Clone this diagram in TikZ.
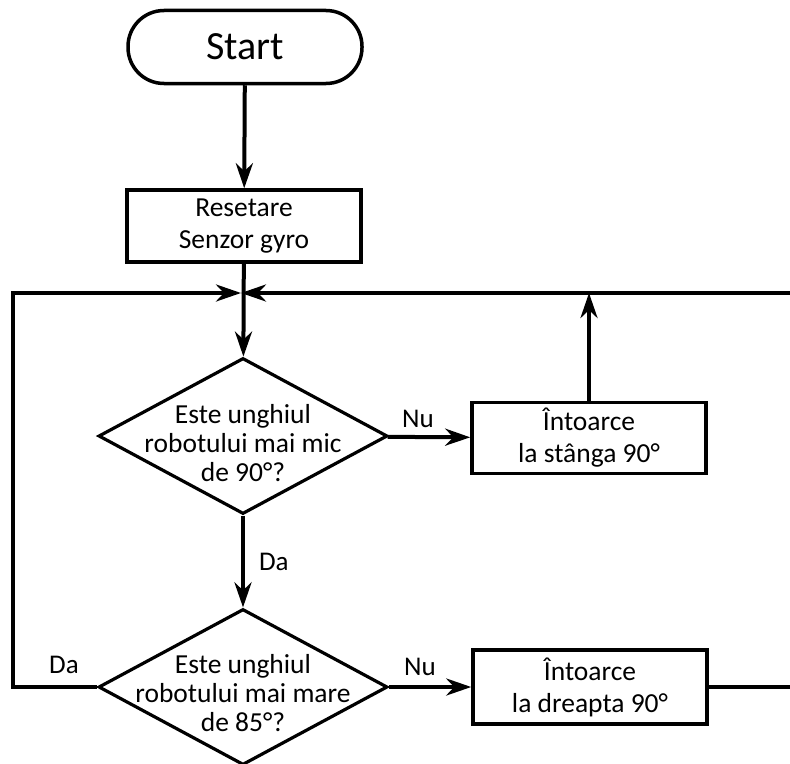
\documentclass[tikz,border=0pt]{standalone}
\usepackage{fontspec}
\setmainfont{Carlito}
\usetikzlibrary{arrows.meta,shapes.geometric}

\tikzset{
  x=1bp, y=-1bp,
  flow/.style={line width=4bp, -{Stealth[length=25bp,width=17bp,inset=8bp]}},
  terminal/.style={draw, line width=3.5bp, rectangle, rounded corners=36bp,
    minimum width=234bp, minimum height=73bp, inner sep=0pt,
    font=\fontsize{40bp}{44bp}\selectfont},
  procbox/.style={draw, line width=3.5bp, rectangle, minimum width=234bp,
    minimum height=72bp, inner sep=0pt, align=center,
    font=\fontsize{27.5bp}{32bp}\selectfont},
  decision/.style={draw, line width=3.2bp, diamond, minimum width=289bp,
    minimum height=156bp, inner sep=0pt},
  dtext/.style={align=center, inner sep=0pt, font=\fontsize{27.5bp}{29bp}\selectfont},
  lbl/.style={inner sep=0pt, anchor=base, font=\fontsize{27bp}{30bp}\selectfont}
}

\begin{document}
\begin{tikzpicture}
\useasboundingbox (0,0) rectangle (790,764);

% nodes
\node[terminal] (start) at (245,47) {Start};
\node[procbox] (reset) at (244,226) {Resetare\\Senzor gyro};
\coordinate (j) at (243,293);
\node[decision] (d1) at (243,436) {};
\node[dtext] at (243,443) {Este unghiul\\robotului mai mic\\de 90°?};
\node[procbox, minimum height=71bp] (left) at (589,438) {Întoarce\\la stânga 90°};
\node[decision] (d2) at (243,687) {};
\node[dtext] at (243,693) {Este unghiul\\robotului mai mare\\de 85°?};
\node[procbox, minimum height=74bp] (right) at (590,687) {Întoarce\\la dreapta 90°};
\coordinate (lx) at (13,687);
\coordinate (rx) at (796,687);

% connectors
\draw[flow] (start) -- (reset);
\draw[flow] (reset) -- (d1);
\draw[flow] (d1) -- node[lbl, right=14bp, anchor=west] {Da} (d2);
\draw[flow] (d1) -- (left);
\draw[flow] (left) -- (left.north |- j);
\draw[flow] (d2) -- (right);
\draw[flow, shorten >=2bp] (d2.west) -- (lx) |- (j);
\draw[flow, shorten >=-2bp] (right.east) -- (rx) |- (j);

% branch labels
\node[lbl] (nu1) at (418,427) {Nu};
\node[lbl] (nu2) at (420,675) {Nu};
\node[lbl] (da2) at (64,673) {Da};
\end{tikzpicture}
\end{document}
